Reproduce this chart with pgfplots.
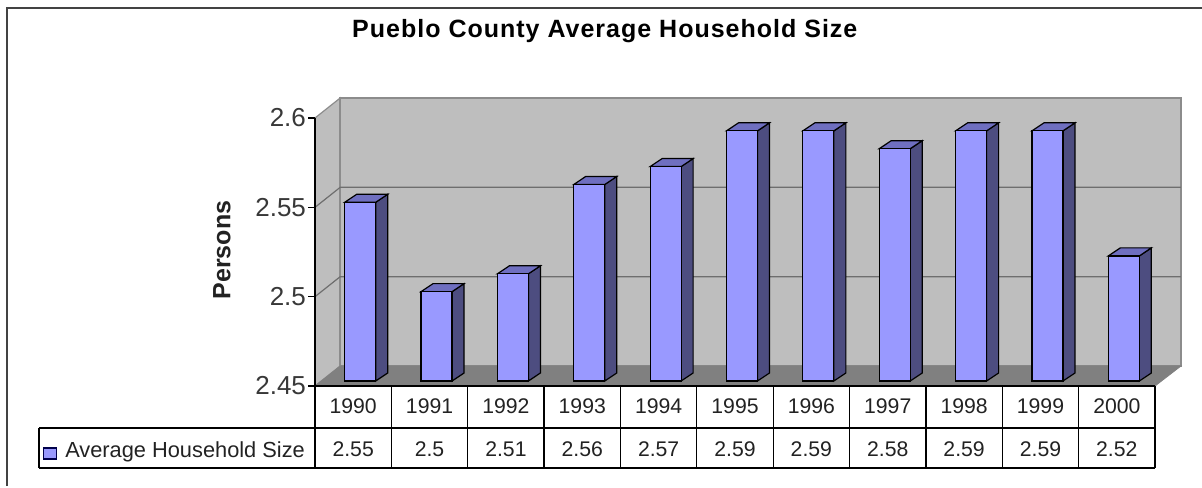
\documentclass[border=0pt]{standalone}
\usepackage{fontspec}
\setmainfont{Liberation Sans}
\newfontfamily\titlefont[LetterSpace=4]{Liberation Sans}
\usepackage{pgfplots}
\usepackage{pgfplotstable}
\pgfplotsset{compat=1.18}
\definecolor{wall}{HTML}{BEBEBE}
\definecolor{walledge}{HTML}{8C8C8C}
\definecolor{floorc}{HTML}{808080}
\definecolor{gridc}{HTML}{6E6E6E}
\definecolor{front}{HTML}{9999FF}
\definecolor{side}{HTML}{4D4D80}
\definecolor{topc}{HTML}{6F6FC0}
\definecolor{ink}{HTML}{222222}
% one bar's side, top and front faces: category position, value
\newcommand\barfaces[2]{%
  \pgfmathsetmacro\xL{#1-0.1113}%
  \pgfmathsetmacro\xR{#1+0.2947}%
  \pgfmathsetmacro\xLd{\xL+0.157}%
  \pgfmathsetmacro\xRd{\xR+0.157}%
  \pgfmathsetmacro\yT{#2+0.0028}%
  \pgfmathsetmacro\yTd{\yT+0.00448}%
  \addplot[fill=side,draw=black,line width=0.6pt,forget plot] coordinates {(\xR,2.4528) (\xRd,2.45728) (\xRd,\yTd) (\xR,\yT)} --cycle;
  \addplot[fill=topc,draw=black,line width=0.6pt,forget plot] coordinates {(\xL,\yT) (\xLd,\yTd) (\xRd,\yTd) (\xR,\yT)} --cycle;
  \addplot[fill=front,draw=black,line width=0.6pt,forget plot] coordinates {(\xL,2.4528) (\xL,\yT) (\xR,\yT) (\xR,2.4528)} --cycle;
}
\begin{document}
\begin{tikzpicture}
\path[use as bounding box] (0,0) rectangle (601pt,-243.5pt);
\draw[color=ink!85,line width=1pt] (3.25pt,-243pt) -- (3.25pt,-4pt) -- (601pt,-4pt);
\begin{axis}[
  at={(157.5pt,-193pt)}, anchor=south west,
  scale only axis, width=420pt, height=134pt,
  xmin=0, xmax=11, ymin=2.45, ymax=2.6,
  clip=false,
  axis on top,
  axis y line*=left, axis x line*=bottom,
  axis line style={-,black,line width=0.6pt},
  tick align=outside,
  xtick={0.5,1.5,2.5,3.5,4.5,5.5,6.5,7.5,8.5,9.5,10.5},
  xticklabels={1990,1991,1992,1993,1994,1995,1996,1997,1998,1999,2000},
  x tick label style={font=\fontsize{10.6pt}{12pt}\selectfont,text=ink,anchor=center,yshift=-6.5pt},
  major tick length=3.5pt,
  x tick style={draw=none},
  ytick={2.45,2.5,2.55,2.6},
  yticklabels={2.45,2.5,2.55,2.6},
  y tick style={black,line width=0.6pt},
  y tick label style={font=\fontsize{13pt}{14pt}\selectfont,text=ink!90,xshift=2.5pt},
  title={\titlefont\bfseries Pueblo County Average Household Size},
  title style={at={(axis description cs:0.345,1.332)},anchor=center,yshift=-7pt,font=\fontsize{12.5pt}{14pt}\selectfont,text=black},
  ylabel={\bfseries Persons},
  ylabel style={at={(axis description cs:-0.1107,0.507)},rotate=0,anchor=center,font=\fontsize{12.5pt}{14pt}\selectfont,text=ink},
]
% walls and floor
\addplot[fill=wall,draw=walledge,line width=0.6pt,forget plot] coordinates {(0,2.6) (0.33,2.6112) (0.33,2.4612) (0,2.45)} --cycle;
\addplot[fill=wall,draw=walledge,line width=0.8pt,forget plot] coordinates {(0.33,2.6112) (11.34,2.6112) (11.34,2.4612) (0.33,2.4612)} --cycle;
\addplot[fill=floorc,draw=floorc,forget plot] coordinates {(0,2.45) (0.33,2.4612) (11.34,2.4612) (11,2.45)} --cycle;
% gridlines
\addplot[gridc,line width=0.6pt,forget plot] coordinates {(0,2.5) (0.33,2.5112) (11.34,2.5112)};
\addplot[gridc,line width=0.6pt,forget plot] coordinates {(0,2.55) (0.33,2.5612) (11.34,2.5612)};
% bars
\barfaces{0.5}{2.55}
\barfaces{1.5}{2.50}
\barfaces{2.5}{2.51}
\barfaces{3.5}{2.56}
\barfaces{4.5}{2.57}
\barfaces{5.5}{2.59}
\barfaces{6.5}{2.59}
\barfaces{7.5}{2.58}
\barfaces{8.5}{2.59}
\barfaces{9.5}{2.59}
\barfaces{10.5}{2.52}
% data table rules
\draw[black,line width=0.6pt] (axis cs:-3.614,2.4265) -- (axis cs:11,2.4265);
\draw[black,line width=0.6pt] (axis cs:-3.614,2.4041) -- (axis cs:11,2.4041);
\draw[black,line width=0.6pt] (axis cs:-3.614,2.4265) -- (axis cs:-3.614,2.4041);
\pgfplotsinvokeforeach{0,...,11}{\draw[black,line width=0.6pt] (axis cs:#1,2.45) -- (axis cs:#1,2.4041);}
% value row
\pgfplotsforeachungrouped \px/\lab in {0.5/2.55,1.5/2.5,2.5/2.51,3.5/2.56,4.5/2.57,5.5/2.59,6.5/2.59,7.5/2.58,8.5/2.59,9.5/2.59,10.5/2.52}{
  \edef\tmp{\noexpand\node[font=\noexpand\fontsize{10.6pt}{12pt}\noexpand\selectfont,text=ink] at (axis cs:\px,2.4147) {\lab};}\tmp
}
% legend key
\draw[black!70!blue,line width=0.6pt,fill=front] (axis cs:-3.56,2.4153) rectangle (axis cs:-3.38,2.4091);
\node[anchor=west,inner sep=0pt,font=\fontsize{10.9pt}{12pt}\selectfont,text=ink] at (axis cs:-3.275,2.4132) {Average Household Size};
\end{axis}
\end{tikzpicture}
\end{document}
